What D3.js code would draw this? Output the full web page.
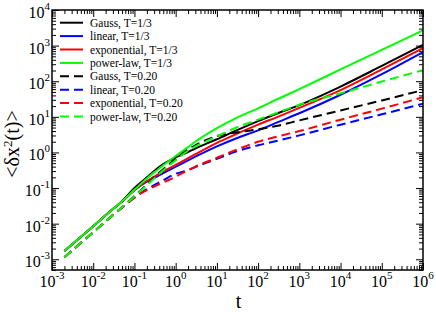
<!DOCTYPE html>
<html>
<head>
<meta charset="utf-8">
<script src="https://cdn.jsdelivr.net/npm/d3@7"></script>
<style>
  body { margin: 0; background: #fff; }
  svg { display: block; }
  .axis path { display: none; }
  .axis line { stroke: #000; stroke-width: 1; }
</style>
</head>
<body>
<script>
var tValues = [0.002, 0.01, 0.03, 0.05, 0.1, 0.2, 0.3, 0.5, 1, 2, 3, 10, 30, 100, 300, 1000, 1e4, 1e5, 1e6];

// log10 of <dx^2(t)>, T = 1/3 (solid)
var gaussT13 = [-2.77, -2.07, -1.59, -1.37, -1.00, -0.70, -0.52, -0.33, -0.14, 0.01, 0.11, 0.37, 0.62, 0.88, 1.10, 1.33, 1.85, 2.43, 3.02];
var linearT13 = [-2.77, -2.07, -1.59, -1.38, -1.06, -0.82, -0.72, -0.58, -0.40, -0.22, -0.12, 0.17, 0.40, 0.62, 0.85, 1.10, 1.62, 2.20, 2.82];
var exponentialT13 = [-2.77, -2.07, -1.59, -1.38, -1.06, -0.80, -0.68, -0.53, -0.35, -0.16, -0.05, 0.27, 0.52, 0.78, 1.00, 1.25, 1.75, 2.33, 2.93];
var powerlawT13 = [-2.77, -2.07, -1.59, -1.37, -1.05, -0.73, -0.56, -0.36, -0.10, 0.15, 0.30, 0.68, 0.97, 1.24, 1.50, 1.78, 2.33, 2.88, 3.43];

// log10 of <dx^2(t)>, T = 0.20 (dashed)
var gaussT020 = [-2.94, -2.24, -1.76, -1.54, -1.22, -0.90, -0.70, -0.47, -0.18, 0.08, 0.20, 0.46, 0.56, 0.65, 0.75, 0.90, 1.18, 1.46, 1.75];
var linearT020 = [-2.94, -2.24, -1.76, -1.55, -1.27, -1.03, -0.92, -0.78, -0.60, -0.50, -0.41, -0.18, 0.03, 0.20, 0.33, 0.48, 0.78, 1.07, 1.37];
var exponentialT020 = [-2.94, -2.24, -1.76, -1.55, -1.27, -1.06, -0.96, -0.84, -0.68, -0.50, -0.40, -0.15, 0.08, 0.30, 0.45, 0.60, 0.92, 1.23, 1.55];
var powerlawT020 = [-2.94, -2.24, -1.76, -1.54, -1.23, -0.92, -0.73, -0.50, -0.22, 0.05, 0.17, 0.45, 0.70, 0.92, 1.12, 1.34, 1.66, 1.99, 2.31];

var seriesNames = ["Gauss, T=1/3", "linear, T=1/3", "exponential, T=1/3", "power-law, T=1/3",
                   "Gauss, T=0.20", "linear, T=0.20", "exponential, T=0.20", "power-law, T=0.20"];
var seriesValues = [gaussT13, linearT13, exponentialT13, powerlawT13,
                    gaussT020, linearT020, exponentialT020, powerlawT020];
var seriesColors = ["#000000", "#0000ff", "#ff0000", "#00ff00",
                    "#000000", "#0000ff", "#ff0000", "#00ff00"];
var seriesDashed = [false, false, false, false, true, true, true, true];

var xMajor = [-3, -2, -1, 0, 1, 2, 3, 4, 5, 6];
var yMajor = [-3, -2, -1, 0, 1, 2, 3, 4];

var FONT = "Liberation Serif";

var W = 436, H = 312;
var margin = {top: 10, right: 13, bottom: 42, left: 52},
    width = W - margin.left - margin.right,
    height = H - margin.top - margin.bottom;

var x = d3.scaleLog().domain([1e-3, 1e6]).range([0, width]);
var y = d3.scaleLog().domain([5e-4, 1e4]).range([height, 0]);

function minorTicks(domain) {
  var out = [];
  for (var e = -4; e <= 6; e++) {
    for (var k = 2; k <= 9; k++) {
      var v = k * Math.pow(10, e);
      if (v >= domain[0] && v <= domain[1]) out.push(v);
    }
  }
  return out;
}

var xMajorVals = xMajor.map(function(e) { return Math.pow(10, e); });
var yMajorVals = yMajor.map(function(e) { return Math.pow(10, e); });
var xMinorVals = minorTicks(x.domain());
var yMinorVals = minorTicks(y.domain());

var svg = d3.select("body").append("svg")
    .attr("width", W)
    .attr("height", H)
  .append("g")
    .attr("transform", "translate(" + margin.left + "," + margin.top + ")");

svg.append("clipPath")
    .attr("id", "clip")
  .append("rect")
    .attr("width", width)
    .attr("height", height);

// ticks on all four sides, pointing inward
function addTicks(axis, tx, ty) {
  svg.append("g")
      .attr("class", "axis")
      .attr("transform", "translate(" + tx + "," + ty + ")")
      .call(axis);
}
var MAJ = 7, MIN = 4;
addTicks(d3.axisBottom(x).tickValues(xMajorVals).tickSize(-MAJ).tickFormat(""), 0, height);
addTicks(d3.axisBottom(x).tickValues(xMinorVals).tickSize(-MIN).tickFormat(""), 0, height);
addTicks(d3.axisTop(x).tickValues(xMajorVals).tickSize(-MAJ).tickFormat(""), 0, 0);
addTicks(d3.axisTop(x).tickValues(xMinorVals).tickSize(-MIN).tickFormat(""), 0, 0);
addTicks(d3.axisLeft(y).tickValues(yMajorVals).tickSize(-MAJ).tickFormat(""), 0, 0);
addTicks(d3.axisLeft(y).tickValues(yMinorVals).tickSize(-MIN).tickFormat(""), 0, 0);
addTicks(d3.axisRight(y).tickValues(yMajorVals).tickSize(-MAJ).tickFormat(""), width, 0);
addTicks(d3.axisRight(y).tickValues(yMinorVals).tickSize(-MIN).tickFormat(""), width, 0);

// tick labels 10^n
var xLab = svg.selectAll(".xlab")
    .data(xMajor)
  .enter().append("text")
    .attr("class", "xlab")
    .attr("x", function(d) { return x(Math.pow(10, d)); })
    .attr("y", height + 17)
    .style("text-anchor", "middle")
    .style("font-family", FONT)
    .style("font-size", "16px");
xLab.append("tspan").text("10");
xLab.append("tspan")
    .attr("dy", -8)
    .style("font-size", "11px")
    .text(function(d) { return d; });

var yLab = svg.selectAll(".ylab")
    .data(yMajor)
  .enter().append("text")
    .attr("class", "ylab")
    .attr("x", -2)
    .attr("y", function(d) { return y(Math.pow(10, d)) + 8; })
    .style("text-anchor", "end")
    .style("font-family", FONT)
    .style("font-size", "16px");
yLab.append("tspan").text("10");
yLab.append("tspan")
    .attr("dy", -8)
    .style("font-size", "11px")
    .text(function(d) { return d; });

// curves
var line = d3.line()
    .curve(d3.curveMonotoneX)
    .x(function(d) { return x(d[0]); })
    .y(function(d) { return y(d[1]); });

var curves = svg.append("g").attr("clip-path", "url(#clip)");
seriesValues.forEach(function(vals, i) {
  var pts = tValues.map(function(t, j) { return [t, Math.pow(10, vals[j])]; });
  curves.append("path")
      .datum(pts)
      .attr("d", line)
      .style("fill", "none")
      .style("stroke", seriesColors[i])
      .style("stroke-width", 2)
      .style("stroke-dasharray", seriesDashed[i] ? "9,5" : null);
});

// frame
svg.append("rect")
    .attr("width", width)
    .attr("height", height)
    .style("fill", "none")
    .style("stroke", "#000")
    .style("stroke-width", 1.5);

// legend
var legend = svg.selectAll(".legend")
    .data(seriesNames)
  .enter().append("g")
    .attr("class", "legend")
    .attr("transform", function(d, i) { return "translate(8," + (12.7 + i * 13.4) + ")"; });

legend.append("line")
    .attr("x1", 0)
    .attr("x2", 23)
    .style("stroke", function(d, i) { return seriesColors[i]; })
    .style("stroke-width", 2)
    .style("stroke-dasharray", function(d, i) { return seriesDashed[i] ? "9,5" : null; });

legend.append("text")
    .attr("x", 30)
    .attr("y", 4)
    .style("font-family", FONT)
    .style("font-size", "11.5px")
    .text(function(d) { return d; });

// axis titles
svg.append("text")
    .attr("x", width / 2 + 1)
    .attr("y", height + 38)
    .style("text-anchor", "middle")
    .style("font-family", FONT)
    .style("font-size", "20px")
    .text("t");

svg.append("text")
    .attr("transform", "rotate(-90)")
    .attr("x", -134)
    .attr("y", -33)
    .style("text-anchor", "middle")
    .style("font-family", FONT)
    .style("font-size", "20px")
    .html("&lt;δx<tspan dy='-7' font-size='13px'>2</tspan><tspan dy='7'>(t)&gt;</tspan>");
</script>
</body>
</html>
